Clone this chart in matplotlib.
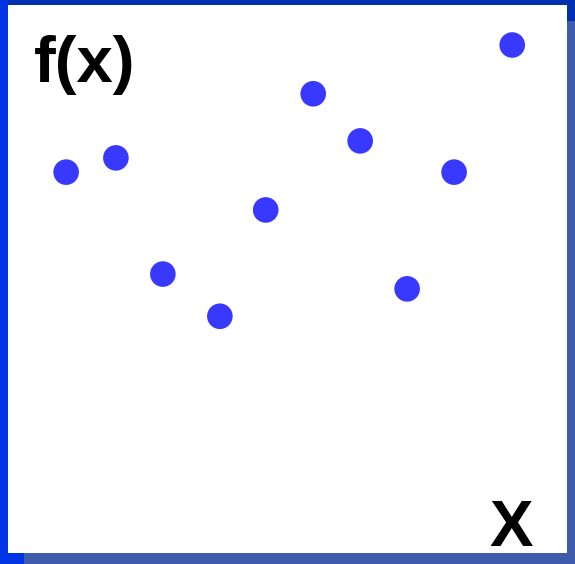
import matplotlib
matplotlib.use("Agg")
import matplotlib.pyplot as plt
from matplotlib.patches import Rectangle

# point values (axis 0..10 both ways)
x_vals = [1.04, 1.93, 2.77, 3.79, 4.61, 5.46, 6.30, 7.14, 7.98, 9.02]
y_vals = [6.95, 7.21, 5.09, 4.32, 6.26, 8.38, 7.52, 4.82, 6.95, 9.27]

W, H = 575, 564
fig = plt.figure(figsize=(W / 100, H / 100), dpi=100)
fig.patch.set_facecolor("white")


def band(x0, y0, x1, y1, color):
    # pixel box (top-left origin) -> figure fraction
    fig.patches.append(Rectangle((x0 / W, 1 - y1 / H), (x1 - x0) / W, (y1 - y0) / H,
                                 transform=fig.transFigure, facecolor=color,
                                 edgecolor="none", zorder=0))


top_c = "#0030b0"
left_c = "#0035e6"
gray_c = "#3f5bac"
band(0, 0, W, 5, top_c)
band(567, 5, W, 21, top_c)
band(567, 21, W, H, gray_c)
band(24, 553, W, H, gray_c)
band(0, 0, 8, H, left_c)
band(8, 553, 24, H, left_c)

ax = fig.add_axes([8 / W, 1 - 553 / H, 559 / W, 548 / H])
ax.set_facecolor("white")
ax.scatter(x_vals, y_vals, s=340, color="#3838ff", edgecolors="none", zorder=3)
ax.set_xlim(0, 10)
ax.set_ylim(0, 10)
ax.set_xticks([])
ax.set_yticks([])
for sp in ax.spines.values():
    sp.set_visible(False)

ax.text(0.046, 0.859, "f(x)", transform=ax.transAxes, ha="left", va="baseline",
        fontsize=47, fontweight="bold", family="Liberation Sans")
ax.text(0.9, 0.013, "X", transform=ax.transAxes, ha="center", va="baseline",
        fontsize=47, fontweight="bold", family="Liberation Sans")

fig.savefig("out.png", dpi=100)
